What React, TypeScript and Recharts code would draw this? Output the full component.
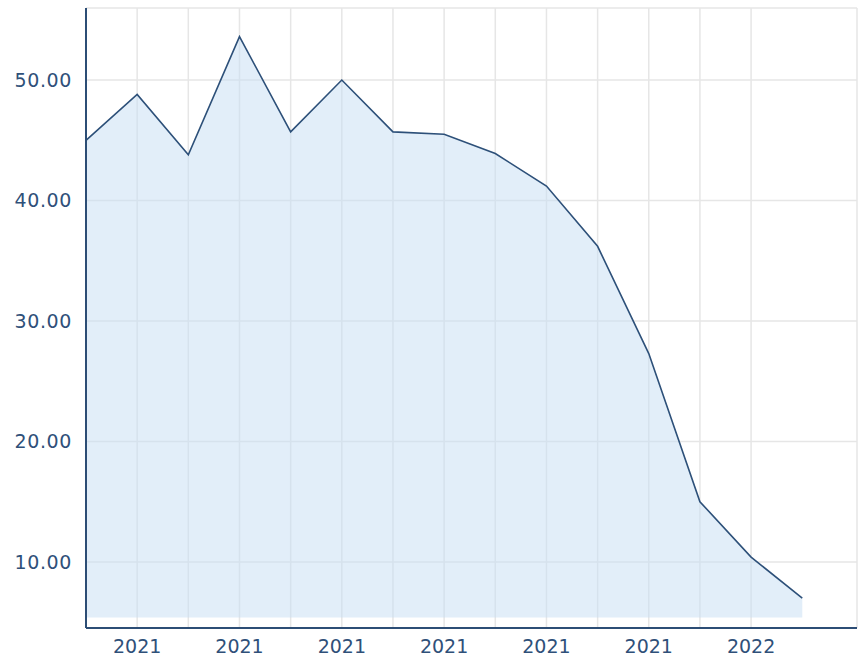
import React from 'react'
import { AreaChart, Area, XAxis, YAxis, CartesianGrid } from 'recharts'

const years = ['2021', '2021', '2021', '2021', '2021', '2021', '2021', '2021', '2021', '2021', '2021', '2021', '2021', '2022', '2022']
const values = [45.0, 48.8, 43.8, 53.6, 45.7, 50.0, 45.7, 45.5, 43.9, 41.2, 36.2, 27.3, 15.0, 10.4, 7.0]
const labelTicks = [1, 3, 5, 7, 9, 11, 13]
const gridTicks = [1, 2, 3, 4, 5, 6, 7, 8, 9, 10, 11, 12, 13]
const yTicks = [10, 20, 30, 40, 50]

const data = values.map((v, i) => ({ idx: i, year: years[i], value: v }))

const AXIS = '#2c4d75'
const TEXT = '#2f5079'

export default function App() {
  return (
    <div style={{ position: 'absolute', left: 0, top: 0 }}>
      <AreaChart
        width={858}
        height={661}
        data={data}
        margin={{ top: 8, right: 1, left: 0, bottom: 0 }}
      >
        <CartesianGrid xAxisId="grid" stroke="#e6e6e6" strokeWidth={1.5} />
        <XAxis
          xAxisId="grid"
          dataKey="idx"
          type="number"
          domain={[0, 15.07]}
          allowDataOverflow
          ticks={gridTicks}
          hide
        />
        <XAxis
          dataKey="idx"
          type="number"
          domain={[0, 15.07]}
          allowDataOverflow
          ticks={labelTicks}
          tickFormatter={(v: number) => years[v]}
          height={33}
          stroke={AXIS}
          strokeWidth={2}
          tickLine={false}
          tickSize={0}
          tickMargin={12}
          tick={{ fill: TEXT, fontSize: 19, fontFamily: 'DejaVu Sans' }}
        />
        <YAxis
          type="number"
          domain={[4.52, 55.98]}
          allowDataOverflow
          ticks={yTicks}
          tickFormatter={(v: number) => v.toFixed(2)}
          width={86}
          stroke={AXIS}
          strokeWidth={2}
          tickLine={false}
          tickSize={0}
          tickMargin={14}
          tick={{ fill: TEXT, fontSize: 19, fontFamily: 'DejaVu Sans', letterSpacing: 0.6 }}
        />
        <Area
          type="linear"
          dataKey="value"
          baseValue={5.4}
          stroke="#2d5079"
          strokeWidth={1.6}
          fill="#c5ddf3"
          fillOpacity={0.5}
          dot={false}
          activeDot={false}
          isAnimationActive={false}
        />
      </AreaChart>
    </div>
  )
}
